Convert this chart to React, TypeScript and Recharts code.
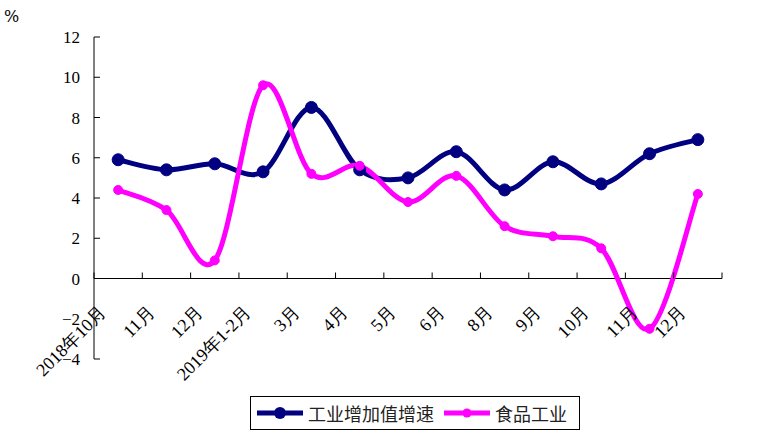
import { LineChart, Line, XAxis, YAxis, ReferenceLine } from 'recharts';

const categories = ['2018年10月', '11月', '12月', '2019年1-2月', '3月', '4月', '5月', '6月', '8月', '9月', '10月', '11月', '12月'];
const industry = [5.9, 5.4, 5.7, 5.3, 8.5, 5.4, 5.0, 6.3, 4.4, 5.8, 4.7, 6.2, 6.9];
const food = [4.4, 3.4, 0.9, 9.6, 5.2, 5.6, 3.8, 5.1, 2.6, 2.1, 1.5, -2.5, 4.2];
const yTicks = [-4, -2, 0, 2, 4, 6, 8, 10, 12];

const data = categories.map((c, i) => ({ name: c, industry: industry[i], food: food[i] }));

const W = 767;
const H = 432;
const M = { top: 37, right: 45, left: 54, bottom: 43 };
const PLOT_W = W - M.left - 40 - M.right;
const PLOT_H = H - M.top - M.bottom - 30;
const ZERO_UP = PLOT_H * 4 / 16; // distance from plot bottom (-4) up to 0
const BAND = PLOT_W / categories.length;

const serif = "'DejaVu Serif', serif";
const latin = "'Liberation Serif', 'DejaVu Serif', serif";

// excel style smoothing (catmull-rom -> bezier)
function smoothCurve(context: any) {
  let pts: number[][] = [];
  return {
    areaStart() {},
    areaEnd() {},
    lineStart() { pts = []; },
    point(x: number, y: number) { pts.push([+x, +y]); },
    lineEnd() {
      if (!pts.length) return;
      context.moveTo(pts[0][0], pts[0][1]);
      for (let i = 0; i < pts.length - 1; i++) {
        const p0 = pts[i - 1] || pts[i];
        const p1 = pts[i];
        const p2 = pts[i + 1];
        const p3 = pts[i + 2] || p2;
        context.bezierCurveTo(
          p1[0] + (p2[0] - p0[0]) / 6, p1[1] + (p2[1] - p0[1]) / 6,
          p2[0] - (p3[0] - p1[0]) / 6, p2[1] - (p3[1] - p1[1]) / 6,
          p2[0], p2[1]
        );
      }
    },
  };
}

function CategoryTick(props: any) {
  const { x, y, payload, index } = props;
  const zy = y - ZERO_UP;
  const left = x - BAND / 2;
  const tx = x - 11;
  const ty = zy + 35;
  return (
    <g>
      <line x1={left} y1={zy} x2={left} y2={zy - 6} stroke="#000" />
      {index === categories.length - 1 && (
        <line x1={x + BAND / 2} y1={zy} x2={x + BAND / 2} y2={zy - 6} stroke="#000" />
      )}
      <text x={tx} y={ty} textAnchor="end" fontSize={18} fontFamily={latin} fill="#000"
        transform={`rotate(-45 ${tx} ${ty})`}>
        {payload.value}
      </text>
    </g>
  );
}

function ValueTick(props: any) {
  const { x, y, payload } = props;
  return (
    <g>
      <line x1={x} y1={y} x2={x + 6} y2={y} stroke="#000" />
      <text x={x - 14} y={y + 6} textAnchor="end" fontSize={17} fontFamily={latin} fill="#000">
        {String(payload.value).replace('-', '−')}
      </text>
    </g>
  );
}

function LegendBox() {
  const item = (color: string, r: number, label: string) => (
    <div style={{ display: 'flex', alignItems: 'center', marginRight: 8 }}>
      <svg width={50} height={14}>
        <line x1={2} y1={7} x2={48} y2={7} stroke={color} strokeWidth={5} />
        <circle cx={25} cy={7} r={r} fill={color} />
      </svg>
      <span style={{ fontSize: 18, marginLeft: 3, color: '#222' }}>{label}</span>
    </div>
  );
  return (
    <div style={{ position: 'absolute', left: 250, top: 396, display: 'flex', alignItems: 'center', border: '1px solid #000',
      padding: '3px 4px', fontFamily: "'Noto Sans CJK SC', sans-serif", background: '#fff' }}>
      {item('#000080', 6, '工业增加值增速')}
      {item('#ff00ff', 4.5, '食品工业')}
    </div>
  );
}

export default function App() {
  return (
    <div style={{ position: 'absolute', left: 0, top: 0, width: W, height: H, background: '#fff' }}>
      <div style={{ position: 'absolute', left: 4, top: 7, fontSize: 16, fontFamily: serif }}>%</div>
      <LineChart width={W} height={H} data={data} margin={M}>
        <XAxis dataKey="name" height={30} axisLine={false} tickLine={false} tickSize={0} tickMargin={0}
          interval={0} padding={{ left: BAND / 2, right: BAND / 2 }} tick={<CategoryTick />} />
        <YAxis width={40} domain={[-4, 12]} ticks={yTicks} interval={0} tickLine={false} tickSize={0} tickMargin={0}
          axisLine={{ stroke: '#000' }} tick={<ValueTick />} />
        <ReferenceLine y={0} stroke="#000" />
        <Line dataKey="industry" type={smoothCurve as any} stroke="#000080" strokeWidth={5}
          dot={{ r: 6, fill: '#000080', stroke: '#000080', strokeWidth: 1 }} isAnimationActive={false} />
        <Line dataKey="food" type={smoothCurve as any} stroke="#ff00ff" strokeWidth={5}
          dot={{ r: 4.5, fill: '#ff00ff', stroke: '#ff00ff', strokeWidth: 1 }} isAnimationActive={false} />
      </LineChart>
      <LegendBox />
    </div>
  );
}
